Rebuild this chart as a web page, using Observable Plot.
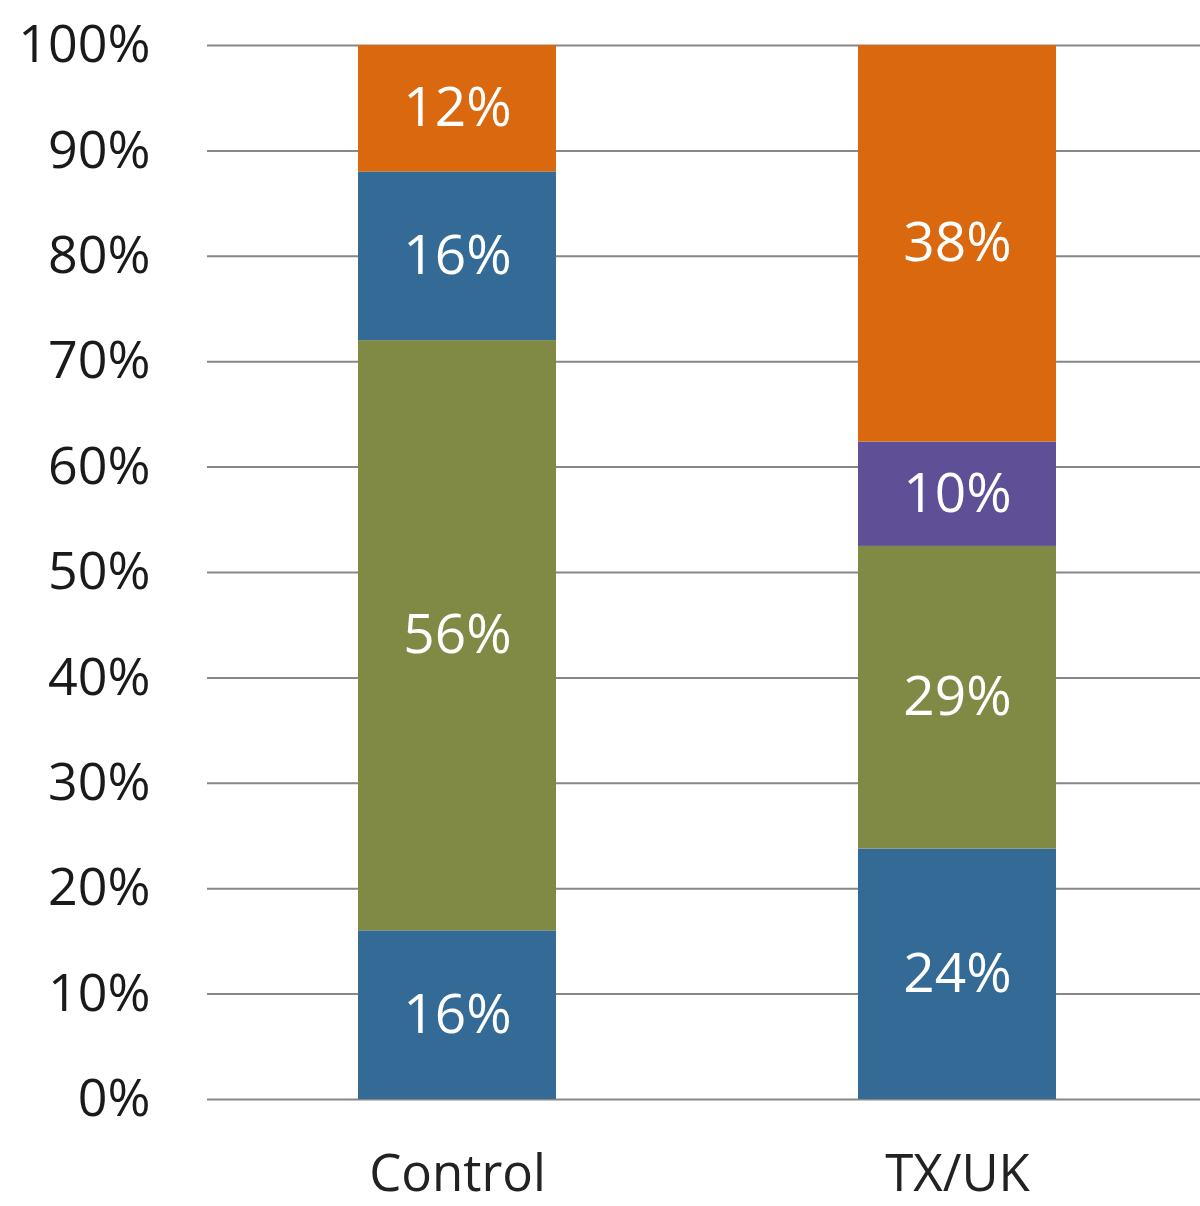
<!DOCTYPE html>
<html><head><meta charset="utf-8">
<script src="https://cdn.jsdelivr.net/npm/d3@7"></script>
<script src="https://cdn.jsdelivr.net/npm/@observablehq/plot@0.6"></script>
<style>body{margin:0;background:#fff;overflow:hidden}</style>
</head><body><div id="chart"></div>
<script>
const groups = ["Control", "TX/UK"];
const segments = ["Segment 1", "Segment 2", "Segment 3", "Segment 4"];
const controlValues = [16, 56, 16, 12];
const txukValues = [24, 29, 10, 38];
const controlColors = ["#336a96", "#808a45", "#336a96", "#d9680f"];
const txukColors = ["#336a96", "#808a45", "#5e4f96", "#d9680f"];
const yTicks = [0, 0.1, 0.2, 0.3, 0.4, 0.5, 0.6, 0.7, 0.8, 0.9, 1];

const values = [controlValues, txukValues];
const colors = [controlColors, txukColors];
const data = [];
groups.forEach((g, gi) => {
  values[gi].forEach((v, si) => data.push({group: g, segment: segments[si], value: v, color: colors[gi][si], label: v + "%"}));
});

const chart = Plot.plot({
  width: 1200, height: 1206,
  marginLeft: 207, marginRight: 0, marginTop: 45, marginBottom: 107,
  style: {fontFamily: "'Open Sans', sans-serif", background: "#fff"},
  x: {domain: groups, range: [207, 1207], paddingInner: 0.604, paddingOuter: 0.302, label: null},
  y: {domain: [0, 1], label: null},
  color: {type: "identity"},
  marks: [
    Plot.gridY(yTicks, {stroke: "#878787", strokeOpacity: 1, strokeWidth: 2}),
    Plot.barY(data, Plot.stackY({x: "group", y: "value", z: "segment", fill: "color", offset: "normalize"})),
    Plot.text(data, Plot.stackY({x: "group", y: "value", z: "segment", text: "label", offset: "normalize", fill: "#ffffff", fontSize: 55})),
    Plot.axisY(yTicks, {tickSize: 0, tickPadding: 57, tickFormat: d3.format(".0%"), fontSize: 52, fill: "#1a1a1a", label: null}),
    Plot.axisX({tickSize: 0, tickPadding: 55, fontSize: 51, fill: "#222222", label: null})
  ]
});
document.getElementById("chart").appendChild(chart);
</script>
</body></html>
